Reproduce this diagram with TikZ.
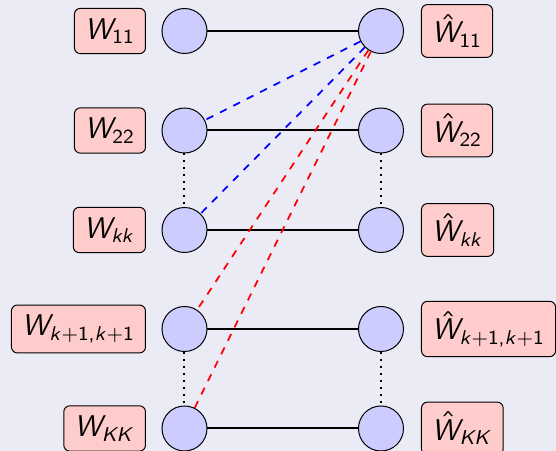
\documentclass[tikz,border=0pt]{standalone}
\DeclareMathVersion{sans}
\SetSymbolFont{operators}{sans}{OT1}{cmss}{m}{n}
\SetSymbolFont{letters}{sans}{OT1}{cmss}{m}{sl}
\SetMathAlphabet{\mathrm}{sans}{OT1}{cmss}{m}{n}
\newcommand\mycomma{\mathchar"602C}
\definecolor{bgcol}{RGB}{235,235,245}
\definecolor{nodecol}{RGB}{204,204,255}
\definecolor{lblcol}{RGB}{255,204,204}
\begin{document}
\begin{tikzpicture}[x=0.4pt,y=-0.4pt,
  nd/.style={circle,draw,fill=nodecol,minimum size=18pt,inner sep=0pt,line width=0.4pt},
  lbl/.style={draw,fill=lblcol,rounded corners=2.4pt,inner xsep=4.2pt,inner ysep=4pt,line width=0.4pt,
    font=\fontsize{12}{14}\selectfont\mathversion{sans}},
  link/.style={line width=0.8pt},
  cross/.style={dashed,line width=0.7pt},
  gap/.style={dotted,line width=0.8pt}]
\fill[bgcol] (0,0) rectangle (556,451);
\useasboundingbox (0,0) rectangle (556,451);
% circles
\node[nd] (l1) at (184.5,31) {};
\node[nd] (l2) at (184.5,130.5) {};
\node[nd] (l3) at (184.5,230) {};
\node[nd] (l4) at (184.5,329) {};
\node[nd] (l5) at (184.5,428.5) {};
\node[nd] (r1) at (381,31) {};
\node[nd] (r2) at (381,130.5) {};
\node[nd] (r3) at (381,230) {};
\node[nd] (r4) at (381,329) {};
\node[nd] (r5) at (381,428.5) {};
% labels
\node[lbl,anchor=east] (w1) at (146,31) {$W_{11}$};
\node[lbl,anchor=east] (w2) at (146,130.5) {$W_{22}$};
\node[lbl,anchor=east] (w3) at (146,230) {$W_{kk}$};
\node[lbl,anchor=east] (w4) at (146,329) {$W_{k+1\mycomma k+1}$};
\node[lbl,anchor=east] (w5) at (146,428.5) {$W_{KK}$};
\node[lbl,anchor=west] (v1) at (421,31) {$\hat{W}_{11}$};
\node[lbl,anchor=west] (v2) at (421,130.5) {$\hat{W}_{22}$};
\node[lbl,anchor=west] (v3) at (421,230) {$\hat{W}_{kk}$};
\node[lbl,anchor=west] (v4) at (421,329) {$\hat{W}_{k+1\mycomma k+1}$};
\node[lbl,anchor=west] (v5) at (421,428.5) {$\hat{W}_{KK}$};
% connectors
\draw[link] (l1) -- (r1);
\draw[link] (l2) -- (r2);
\draw[link] (l3) -- (r3);
\draw[link] (l4) -- (r4);
\draw[link] (l5) -- (r5);
\draw[gap] (l2) -- (l3);
\draw[gap] (r2) -- (r3);
\draw[gap] (l4) -- (l5);
\draw[gap] (r4) -- (r5);
\draw[cross,blue] (r1) -- (l2);
\draw[cross,blue] (r1) -- (l3);
\draw[cross,red] (r1) -- (l4);
\draw[cross,red] (r1) -- (l5);
\end{tikzpicture}
\end{document}
